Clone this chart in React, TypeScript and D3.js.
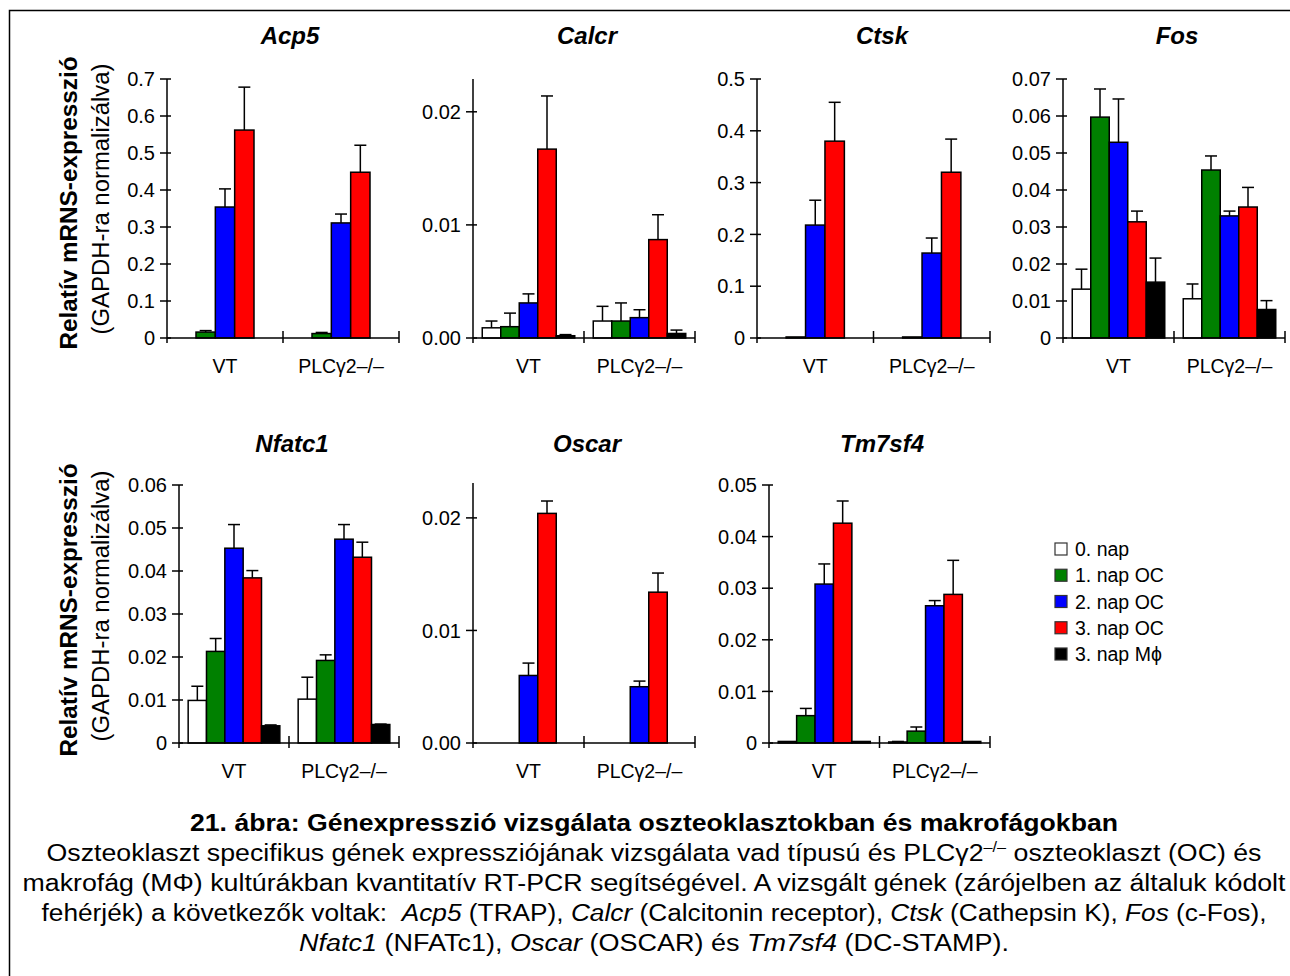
import React from 'react';
import * as d3 from 'd3';

// series (days of culture) and genotype groups
const seriesNames = ['0. nap', '1. nap OC', '2. nap OC', '3. nap OC', '3. nap M\u03D5'];
const seriesColors = ['#ffffff', '#008000', '#0000ff', '#ff0000', '#000000'];
const groupNames = ['VT', 'PLC\u03B32\u2013/\u2013'];

// means: [VT, PLCg2-/-] x [0. nap, 1. nap OC, 2. nap OC, 3. nap OC, 3. nap Mphi], null = not measured
const acp5Mean = [[null, 0.016, 0.354, 0.562, null], [null, 0.012, 0.311, 0.448, null]];
const acp5Err = [[null, 0.004, 0.049, 0.116, null], [null, 0.003, 0.024, 0.073, null]];
const acp5Ticks = ['0', '0.1', '0.2', '0.3', '0.4', '0.5', '0.6', '0.7'];

const calcrMean = [[0.0009, 0.001, 0.0031, 0.0167, 0.0002], [0.0015, 0.0015, 0.0018, 0.0087, 0.0004]];
const calcrErr = [[0.0006, 0.0012, 0.0008, 0.0047, 0.0001], [0.0013, 0.0016, 0.0007, 0.0022, 0.0003]];
const calcrTicks = ['0.00', '0.01', '0.02'];

const ctskMean = [[null, 0.002, 0.218, 0.38, null], [null, 0.002, 0.164, 0.32, null]];
const ctskErr = [[null, 0, 0.048, 0.075, null], [null, 0, 0.029, 0.064, null]];
const ctskTicks = ['0', '0.1', '0.2', '0.3', '0.4', '0.5'];

const fosMean = [[0.0132, 0.0597, 0.0529, 0.0314, 0.0151], [0.0106, 0.0454, 0.033, 0.0354, 0.0077]];
const fosErr = [[0.0054, 0.0076, 0.0117, 0.0029, 0.0065], [0.004, 0.0038, 0.0013, 0.0053, 0.0024]];
const fosTicks = ['0', '0.01', '0.02', '0.03', '0.04', '0.05', '0.06', '0.07'];

const nfatc1Mean = [[0.0099, 0.0213, 0.0453, 0.0384, 0.004], [0.0102, 0.0192, 0.0474, 0.0432, 0.0043]];
const nfatc1Err = [[0.0033, 0.003, 0.0055, 0.0017, 0.0002], [0.0051, 0.0013, 0.0034, 0.0035, 0.0001]];
const nfatc1Ticks = ['0', '0.01', '0.02', '0.03', '0.04', '0.05', '0.06'];

const oscarMean = [[0, 0, 0.006, 0.0204, 0], [0, 0, 0.005, 0.0134, 0]];
const oscarErr = [[0, 0, 0.0011, 0.0011, 0], [0, 0, 0.0005, 0.0017, 0]];
const oscarTicks = ['0.00', '0.01', '0.02'];

const tm7sf4Mean = [[0.0003, 0.0053, 0.0308, 0.0426, 0.0003], [0.0002, 0.0023, 0.0266, 0.0288, 0.0003]];
const tm7sf4Err = [[0, 0.0014, 0.0039, 0.0043, 0], [0.0001, 0.0008, 0.001, 0.0066, 0]];
const tm7sf4Ticks = ['0', '0.01', '0.02', '0.03', '0.04', '0.05'];

const font = "'Liberation Sans', Arial, Helvetica, sans-serif";

// panel placement on the page
const panels = [
  { gene: 'Acp5', mean: acp5Mean, err: acp5Err, ticks: acp5Ticks, yMax: 0.7, x0: 167, x1: 399, y0: 338, yTop: 79, titleX: 290, titleY: 44 },
  { gene: 'Calcr', mean: calcrMean, err: calcrErr, ticks: calcrTicks, yMax: 0.0229, x0: 473, x1: 695, y0: 338, yTop: 79, titleX: 587, titleY: 44 },
  { gene: 'Ctsk', mean: ctskMean, err: ctskErr, ticks: ctskTicks, yMax: 0.5, x0: 757, x1: 990, y0: 338, yTop: 79, titleX: 882, titleY: 44 },
  { gene: 'Fos', mean: fosMean, err: fosErr, ticks: fosTicks, yMax: 0.07, x0: 1063, x1: 1285, y0: 338, yTop: 79, titleX: 1177, titleY: 44 },
  { gene: 'Nfatc1', mean: nfatc1Mean, err: nfatc1Err, ticks: nfatc1Ticks, yMax: 0.06, x0: 179, x1: 399, y0: 743, yTop: 485, titleX: 292, titleY: 452 },
  { gene: 'Oscar', mean: oscarMean, err: oscarErr, ticks: oscarTicks, yMax: 0.0231, x0: 473, x1: 695, y0: 743, yTop: 483, titleX: 587, titleY: 452 },
  { gene: 'Tm7sf4', mean: tm7sf4Mean, err: tm7sf4Err, ticks: tm7sf4Ticks, yMax: 0.05, x0: 769, x1: 990, y0: 743, yTop: 485, titleX: 882, titleY: 452 },
];

function Panel({ p }) {
  const y = d3.scaleLinear().domain([0, p.yMax]).range([p.y0, p.yTop]);
  const x = d3.scaleBand().domain(groupNames).range([p.x0, p.x1]);
  const xs = d3.scaleBand().domain(seriesNames).range([0, x.bandwidth()]).paddingInner(0).paddingOuter(0.5);
  const bw = xs.bandwidth();

  return (
    <g>
      <text x={p.titleX} y={p.titleY} textAnchor="middle" fontSize={24} fontWeight="bold" fontStyle="italic">{p.gene}</text>

      {groupNames.map((g, gi) => (
        <g key={g}>
          {seriesNames.map((s, si) => {
            const v = p.mean[gi][si];
            if (v == null) return null;
            const e = p.err[gi][si] || 0;
            const bx = x(g) + xs(s);
            const cx = bx + bw / 2;
            return (
              <g key={s}>
                {e > 0 && (
                  <g stroke="#000" strokeWidth={1.5}>
                    <line x1={cx} x2={cx} y1={y(v)} y2={y(v + e)} />
                    <line x1={cx - 6} x2={cx + 6} y1={y(v + e)} y2={y(v + e)} />
                  </g>
                )}
                <rect x={bx} y={y(v)} width={bw} height={y(0) - y(v)} fill={seriesColors[si]} stroke="#000" strokeWidth={1.5} />
              </g>
            );
          })}
          <text x={x(g) + x.bandwidth() / 2} y={p.y0 + 35} textAnchor="middle" fontSize={19.5}>{g}</text>
        </g>
      ))}

      {/* y axis */}
      <line x1={p.x0} x2={p.x0} y1={p.yTop} y2={p.y0 + 5} stroke="#000" strokeWidth={1.5} />
      {p.ticks.map((t) => (
        <g key={t}>
          <line x1={p.x0 - 7} x2={p.x0 + 4} y1={y(+t)} y2={y(+t)} stroke="#000" strokeWidth={1.5} />
          <text x={p.x0 - 12} y={y(+t)} dy="0.36em" textAnchor="end" fontSize={20}>{t}</text>
        </g>
      ))}
      {/* x axis */}
      <line x1={p.x0} x2={p.x1} y1={p.y0} y2={p.y0} stroke="#000" strokeWidth={1.5} />
      {groupNames.map((g) => (
        <line key={g} x1={x(g) + x.bandwidth()} x2={x(g) + x.bandwidth()} y1={p.y0 - 7} y2={p.y0 + 5} stroke="#000" strokeWidth={1.5} />
      ))}
    </g>
  );
}

function YLabel({ cy }) {
  return (
    <g>
      <text transform={`translate(77,${cy}) rotate(-90)`} textAnchor="middle" fontSize={23} fontWeight="bold" textLength={293} lengthAdjust="spacingAndGlyphs">Relatív mRNS-expresszió</text>
      <text transform={`translate(109,${cy - 4}) rotate(-90)`} textAnchor="middle" fontSize={23} textLength={271} lengthAdjust="spacingAndGlyphs">(GAPDH-ra normalizálva)</text>
    </g>
  );
}

export default function App() {
  const legendY = d3.scalePoint().domain(seriesNames).range([549, 654]);
  const capFit = { lengthAdjust: 'spacingAndGlyphs' };
  return (
    <svg width={1290} height={976} style={{ position: 'absolute', left: 0, top: 0, background: '#fff' }} fontFamily={font}>
      <rect x={9.5} y={10.5} width={1300} height={1000} fill="#fff" stroke="#000" strokeWidth={1.5} />

      <YLabel cy={203} />
      <YLabel cy={610} />

      {panels.map((p) => <Panel key={p.gene} p={p} />)}

      {/* legend */}
      {seriesNames.map((s, i) => (
        <g key={s}>
          <rect x={1055} y={legendY(s) - 6} width={12} height={12} fill={seriesColors[i]} stroke="#333" strokeWidth={1.2} />
          <text x={1075} y={legendY(s)} dy="0.36em" fontSize={19.5}>{s}</text>
        </g>
      ))}

      {/* caption */}
      <g textAnchor="middle" fontSize={23}>
        <text x={654} y={831} fontWeight="bold" fontSize={23.5} textLength={928} {...capFit}>21. ábra: Génexpresszió vizsgálata oszteoklasztokban és makrofágokban</text>
        <text x={654} y={861} textLength={1215} {...capFit}>
          Oszteoklaszt specifikus gének expressziójának vizsgálata vad típusú és PLC{'\u03B3'}2
          <tspan fontSize={14} dy={-9}>{'\u2013/\u2013'}</tspan>
          <tspan dy={9}> oszteoklaszt (OC) és</tspan>
        </text>
        <text x={654} y={891} textLength={1263} {...capFit}>makrofág (M{'\u03A6'}) kultúrákban kvantitatív RT-PCR segítségével. A vizsgált gének (zárójelben az általuk kódolt</text>
        <text x={654} y={921} textLength={1225} {...capFit}>
          fehérjék) a következők voltak:{'\u00A0 '}<tspan fontStyle="italic">Acp5</tspan> (TRAP), <tspan fontStyle="italic">Calcr</tspan> (Calcitonin receptor), <tspan fontStyle="italic">Ctsk</tspan> (Cathepsin K), <tspan fontStyle="italic">Fos</tspan> (c-Fos),
        </text>
        <text x={654} y={951} textLength={710} {...capFit}>
          <tspan fontStyle="italic">Nfatc1</tspan> (NFATc1), <tspan fontStyle="italic">Oscar</tspan> (OSCAR) és <tspan fontStyle="italic">Tm7sf4</tspan> (DC-STAMP).
        </text>
      </g>
    </svg>
  );
}
